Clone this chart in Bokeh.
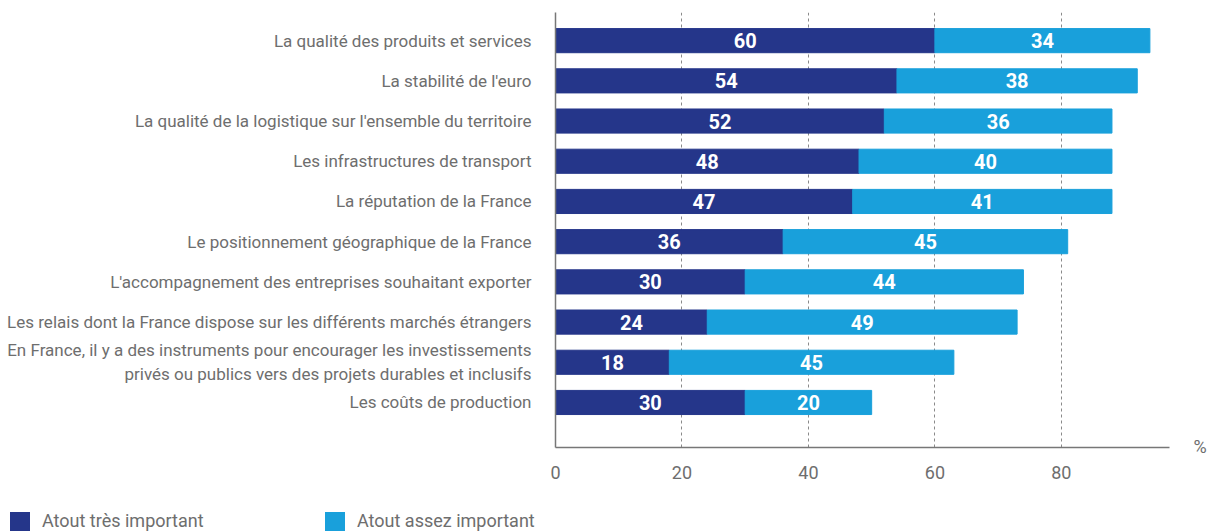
from bokeh.plotting import figure
from bokeh.layouts import column
from bokeh.models import Range1d, ColumnDataSource, FixedTicker, LinearAxis, Div
from bokeh.embed import file_html
from bokeh.resources import INLINE
from bokeh.core.properties import value

categories = [
    "La qualité des produits et services",
    "La stabilité de l'euro",
    "La qualité de la logistique sur l'ensemble du territoire",
    "Les infrastructures de transport",
    "La réputation de la France",
    "Le positionnement géographique de la France",
    "L'accompagnement des entreprises souhaitant exporter",
    "Les relais dont la France dispose sur les différents marchés étrangers",
    "En France, il y a des instruments pour encourager les investissements\nprivés ou publics vers des projets durables et inclusifs",
    "Les coûts de production",
]
tres_important = [60, 54, 52, 48, 47, 36, 30, 24, 18, 30]
assez_important = [34, 38, 36, 40, 41, 45, 44, 49, 45, 20]
series_names = ["Atout très important", "Atout assez important"]
x_ticks = [0, 20, 40, 60, 80]
unit_label = "%"

DARK = "#25368A"
LIGHT = "#19A0DB"
GREY = "#6E6E6E"
FONT = "Roboto"
series_colors = [DARK, LIGHT]

idx = list(range(len(categories)))
src = ColumnDataSource(dict(
    y=idx,
    tres=tres_important,
    total=[a + b for a, b in zip(tres_important, assez_important)],
    mid1=[a / 2 for a in tres_important],
    mid2=[a + b / 2 for a, b in zip(tres_important, assez_important)],
    lab1=[str(a) for a in tres_important],
    lab2=[str(b) for b in assez_important],
))

Y_BOTTOM = 10.12
p = figure(width=1209, height=483,
           x_range=Range1d(0, 97.1), y_range=Range1d(Y_BOTTOM, -0.70),
           output_backend="svg", toolbar_location=None,
           min_border_left=555, min_border_right=35,
           min_border_top=12, min_border_bottom=36)
p.outline_line_color = None
p.background_fill_color = "white"

p.xgrid.ticker = FixedTicker(ticks=[t for t in x_ticks if t > 0])
p.xgrid.grid_line_color = "#8A8A8A"
p.xgrid.grid_line_dash = "3 3"
p.xgrid.grid_line_width = 1
p.ygrid.visible = False

r1 = p.hbar(y="y", left=0, right="tres", height=0.6, color=DARK, source=src)
r2 = p.hbar(y="y", left="tres", right="total", height=0.6, color=LIGHT, source=src)

for xcol, tcol in (("mid1", "lab1"), ("mid2", "lab2")):
    p.text(x=xcol, y="y", text=tcol, source=src, text_color="white",
           text_font=value(FONT), text_font_style="bold", text_font_size="20px",
           text_align="center", text_baseline="middle")

p.xaxis.ticker = FixedTicker(ticks=x_ticks)
p.xaxis.major_tick_line_color = None
p.xaxis.minor_tick_line_color = None
p.xaxis.axis_line_color = "#777777"
p.xaxis.axis_line_width = 1.5
p.xaxis.major_label_text_font = FONT
p.xaxis.major_label_text_font_size = "18px"
p.xaxis.major_label_text_color = GREY
p.xaxis.major_label_standoff = 12

p.yaxis.ticker = FixedTicker(ticks=idx)
p.yaxis.major_label_overrides = {i: c for i, c in zip(idx, categories)}
p.yaxis.major_tick_line_color = None
p.yaxis.minor_tick_line_color = None
p.yaxis.axis_line_color = "#777777"
p.yaxis.axis_line_width = 1.5
p.yaxis.major_label_text_font = FONT
p.yaxis.major_label_text_font_size = "17px"
p.yaxis.major_label_text_color = GREY
p.yaxis.major_label_standoff = 18

pct_tick = 10.1
pct_axis = LinearAxis(ticker=FixedTicker(ticks=[pct_tick]),
                      major_label_overrides={pct_tick: unit_label},
                      axis_line_color=None, major_tick_line_color=None,
                      minor_tick_line_color=None, major_label_standoff=18,
                      major_label_text_font=FONT, major_label_text_font_size="18px",
                      major_label_text_color=GREY)
p.add_layout(pct_axis, "right")

# legend strip below the chart
item_lefts = [10, 325]
parts = []
for name, col, left in zip(series_names, series_colors, item_lefts):
    parts.append(
        f'<span style="position:absolute;left:{left}px;top:29px;width:20px;height:20px;'
        f'background:{col};"></span>'
        f'<span style="position:absolute;left:{left + 32}px;top:26px;line-height:24px;'
        f'white-space:nowrap;">{name}</span>'
    )
legend_html = (f'<div style="position:relative;width:1209px;height:48px;overflow:hidden;'
               f'font-family:{FONT};font-size:18px;color:{GREY};">' + "".join(parts) + "</div>")
legend_div = Div(text=legend_html, width=1209, height=48, margin=0)

layout = column(p, legend_div, spacing=0)
open("out.html", "w").write(file_html(layout, INLINE))
